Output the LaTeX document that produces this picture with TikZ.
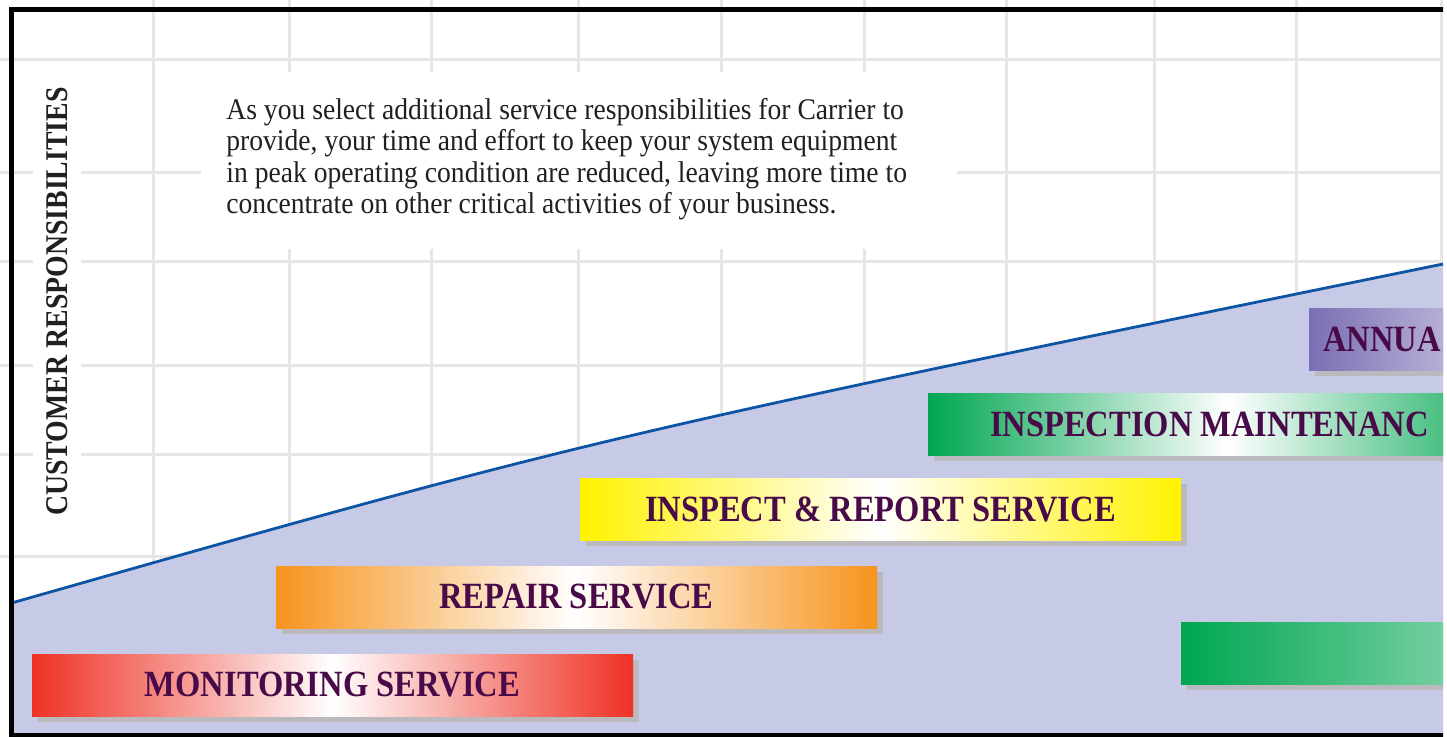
\documentclass[tikz,border=0pt]{standalone}
\usepackage{fontspec}
\setmainfont[FakeStretch=0.88]{Liberation Serif}
\newfontfamily\bodyfont[FakeStretch=0.92]{Liberation Serif}
\usetikzlibrary{shadows}

\definecolor{gridgray}{RGB}{230,230,230}
\definecolor{areafill}{RGB}{198,202,230}
\definecolor{arealine}{RGB}{14,84,164}
\definecolor{shadowgray}{RGB}{185,185,190}
\definecolor{labelpurple}{RGB}{72,10,72}
\definecolor{bodygray}{RGB}{35,31,32}
\definecolor{barred}{RGB}{238,49,36}
\definecolor{barorange}{RGB}{247,148,29}
\definecolor{baryellow}{RGB}{255,242,0}
\definecolor{bargreen}{RGB}{0,166,81}
\definecolor{barpurple}{RGB}{122,111,180}

\tikzset{
  gridline/.style={gridgray, line width=1.5pt},
  servicebar/.style={rectangle, minimum width=300.5pt, minimum height=31pt,
    inner sep=0pt, left color=#1, right color=#1, middle color=white,
    text=labelpurple, font=\fontsize{18.5}{20}\selectfont\bfseries,
    drop shadow={shadow xshift=2.75pt, shadow yshift=-3pt,
      fill=shadowgray, opacity=1}},
}

\begin{document}
\begin{tikzpicture}[x=0.5pt, y=-0.5pt]
  \useasboundingbox (0,0) rectangle (1447,736);
  \fill[white] (0,0) rectangle (1447,736);
  \begin{scope}
    \clip (0,0) rectangle (1443,736);
    % grid
    \foreach \gx in {153,289,431,578,721,864,1006,1154,1296,1441}
      \draw[gridline] (\gx,0) -- (\gx,736);
    \foreach \gy in {59,172,261,365,454,556}
      \draw[gridline] (0,\gy) -- (1443,\gy);
    \fill[white] (201,72) rectangle (957,249);
    \fill[white] (33,70) rectangle (81,530);
    % area
    \coordinate (low) at (11.5,603);
    \coordinate (high) at (1443,264);
    \fill[areafill] (low) .. controls (592,438) .. (high)
      -- (1443,736) -- (11.5,736) -- cycle;
    \draw[arealine, line width=1.4pt] (low) .. controls (592,438) .. (high);
    % bars
    \node[servicebar=barred] (monitoring) at (332.5,685) {MONITORING SERVICE};
    \node[servicebar=barorange] (repair) at (576.5,597) {REPAIR SERVICE};
    \node[servicebar=baryellow] (inspreport) at (880.5,509)
      {INSPECT \& REPORT SERVICE};
    \node[servicebar=bargreen, inner xsep=31pt] (inspmaint) at (1228.5,424)
      {\makebox[238.5pt][l]{INSPECTION MAINTENANC}};
    \node[servicebar=barpurple, inner xsep=7pt] (annual) at (1609.5,339)
      {\makebox[286.5pt][l]{ANNUA}};
    \node[servicebar=bargreen, minimum width=582pt] (lowgreen)
      at (1763,653) {};
    % frame
    \draw[line width=2.5pt] (11.5,9.5) rectangle (1480,735.5);
  \end{scope}
  \node[rotate=90, text=bodygray, font=\fontsize{15.8}{16}\selectfont\bfseries]
    (custresp) at (57,301.5) {CUSTOMER RESPONSIBILITIES};
  \node[anchor=north west, inner sep=0pt, align=left, text=bodygray,
    font=\bodyfont\fontsize{15}{15.7}\selectfont] (intro) at (226,98)
    {As you select additional service responsibilities for Carrier to\\
     provide, your time and effort to keep your system equipment\\
     in peak operating condition are reduced, leaving more time to\\
     concentrate on other critical activities of your business.};
\end{tikzpicture}
\end{document}
